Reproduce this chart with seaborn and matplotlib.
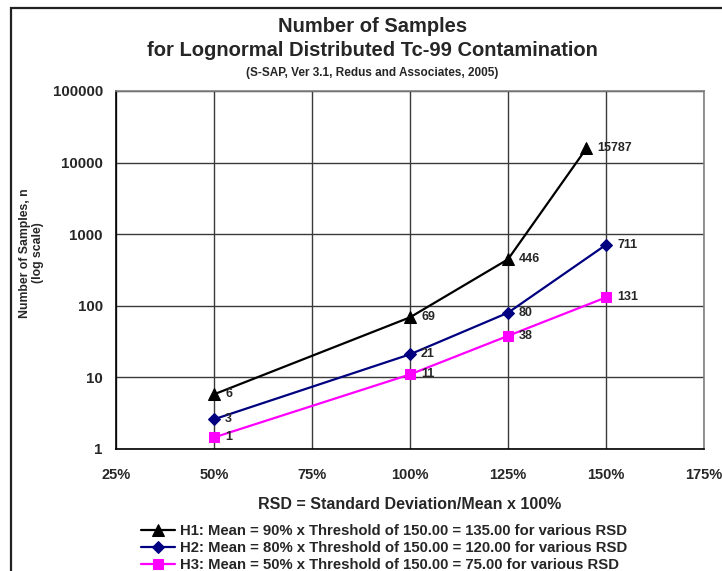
import matplotlib
matplotlib.use("Agg")
import matplotlib.pyplot as plt
import matplotlib.ticker as mticker
from matplotlib.patches import Rectangle
import seaborn as sns
import pandas as pd

# ---- data ----
series_names = [
    "H1: Mean = 90% x Threshold of 150.00 = 135.00 for various RSD",
    "H2: Mean = 80% x Threshold of 150.00 = 120.00 for various RSD",
    "H3: Mean = 50% x Threshold of 150.00 = 75.00 for various RSD",
]
h1_rsd = [50, 100, 125, 145]
h1_n = [5.8, 69, 446, 15787]
h2_rsd = [50, 100, 125, 150]
h2_n = [2.6, 21, 80, 711]
h3_rsd = [50, 100, 125, 150]
h3_n = [1.45, 11, 38, 131]
x_ticks = [25, 50, 75, 100, 125, 150, 175]
y_ticks = [1, 10, 100, 1000, 10000, 100000]

colors = ["#000000", "#000080", "#FF00FF"]
markers = ["^", "D", "s"]
msizes = [8, 6.5, 7.5]

rows = []
for name, xs, ys in zip(series_names, [h1_rsd, h2_rsd, h3_rsd], [h1_n, h2_n, h3_n]):
    for x, y in zip(xs, ys):
        rows.append({"series": name, "rsd": x, "n": y})
df = pd.DataFrame(rows)

sns.set_style("white")
plt.rcParams["font.family"] = ["Liberation Sans", "DejaVu Sans"]
plt.rcParams["font.weight"] = "bold"

fig = plt.figure(figsize=(7.22, 5.71), dpi=100)
ax = fig.add_axes([116 / 722, 1 - 449 / 571, (704 - 116) / 722, (449 - 91) / 571])

# outer chart border (extends past the image on right/bottom)
fig.patches.append(Rectangle((11 / 722, -0.05), 1.2, 1 - 8 / 571 + 0.05,
                             transform=fig.transFigure, fill=False,
                             edgecolor="#222222", linewidth=1.6, zorder=0))

for name, c, m, ms in zip(series_names, colors, markers, msizes):
    sub = df[df["series"] == name]
    sns.lineplot(data=sub, x="rsd", y="n", ax=ax, color=c, marker=m,
                 markersize=ms, markeredgecolor=c, linewidth=1.6,
                 label=name, estimator=None, sort=False, zorder=3)
    for x, y in zip(sub["rsd"], sub["n"]):
        ax.annotate(f"{y:.0f}", (x, y), xytext=(8, 0), textcoords="offset points",
                    va="center", ha="left", fontsize=9, fontweight="bold")

ax.set_yscale("log")
ax.set_xlim(25, 175)
ax.set_ylim(1, 100000)
ax.set_xticks(x_ticks)
ax.set_xticklabels([f"{t}%" for t in x_ticks], fontsize=10.5, fontweight="bold")
ax.xaxis.set_minor_locator(mticker.MultipleLocator(5))
ax.yaxis.set_major_locator(mticker.FixedLocator(y_ticks))
ax.yaxis.set_minor_locator(mticker.LogLocator(base=10, subs=range(2, 10), numticks=20))
ax.yaxis.set_minor_formatter(mticker.NullFormatter())
ax.set_yticklabels([str(t) for t in y_ticks], fontsize=10.8, fontweight="bold")

ax.tick_params(axis="both", which="major", direction="inout", length=7, width=1, color="black", pad=6)
ax.tick_params(axis="both", which="minor", direction="in", length=4, width=0.8, color="black")
ax.tick_params(axis="x", which="major", pad=10)

ax.grid(True, which="major", color="#3a3a3a", linewidth=1.0)
ax.set_axisbelow(True)
for s in ["top", "right"]:
    ax.spines[s].set_color("#808080")
    ax.spines[s].set_linewidth(1.2)
for s in ["left", "bottom"]:
    ax.spines[s].set_color("black")
    ax.spines[s].set_linewidth(1.2)

ax.set_xlabel("RSD = Standard Deviation/Mean x 100%", fontsize=11.5, fontweight="bold", labelpad=11)
ax.set_ylabel("Number of Samples, n\n(log scale)", fontsize=8.8, fontweight="bold",
              linespacing=1.1)
ax.yaxis.set_label_coords((44 - 116) / 588, (449 - 253) / 358)

fig.text(0.516, 1 - 27 / 571, "Number of Samples", ha="center", va="center",
         fontsize=14.5, fontweight="bold")
fig.text(0.516, 1 - 51 / 571, "for Lognormal Distributed Tc-99 Contamination", ha="center",
         va="center", fontsize=14.5, fontweight="bold")
fig.text(0.516, 1 - 73 / 571, "(S-SAP, Ver 3.1, Redus and Associates, 2005)", ha="center",
         va="center", fontsize=8.5, fontweight="bold")

leg = ax.legend(loc="upper left", bbox_to_anchor=(141 / 722, 1 - 524 / 571),
                bbox_transform=fig.transFigure, frameon=False, fontsize=10.7,
                handlelength=2.3, handletextpad=0.3, labelspacing=0.2,
                borderpad=0, borderaxespad=0)
for t in leg.get_texts():
    t.set_fontweight("bold")

fig.savefig("out.png", dpi=100)
